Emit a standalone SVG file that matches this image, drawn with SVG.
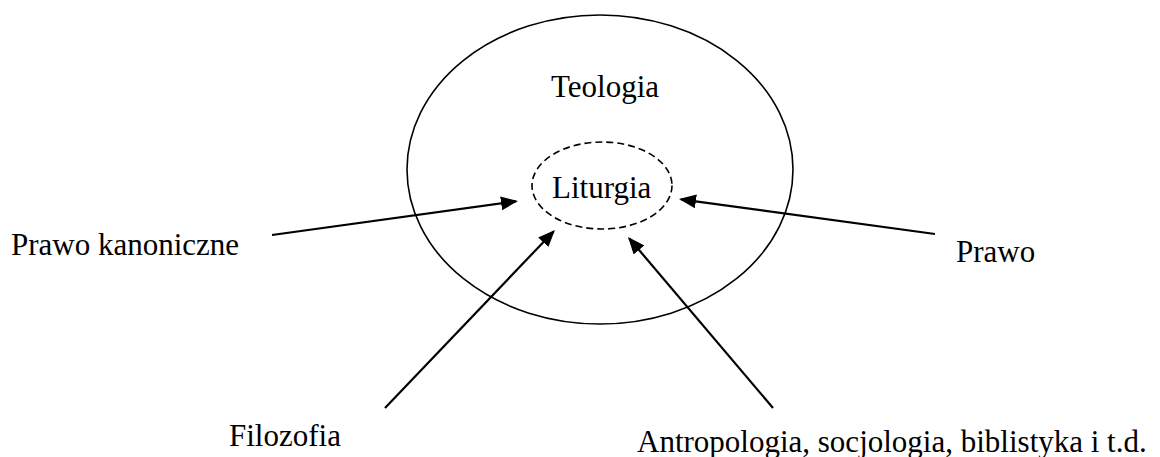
<svg xmlns="http://www.w3.org/2000/svg" width="1160" height="457" viewBox="0 0 1160 457">
<style>
text{font-family:"Liberation Serif","Times New Roman",serif;font-size:31px;fill:#000}
.outer{fill:none;stroke:#000;stroke-width:1.6}
.inner{fill:none;stroke:#000;stroke-width:1.6;stroke-dasharray:7 4}
.conn{stroke:#000;stroke-width:2.2;fill:none;marker-end:url(#ah)}
</style>
<defs>
<marker id="ah" markerUnits="userSpaceOnUse" markerWidth="17" markerHeight="14" refX="15" refY="7" orient="auto">
<path d="M0,0 L17,7 L0,14 z" fill="#000"/>
</marker>
</defs>
<rect width="1160" height="457" fill="#fff"/>
<g id="teologia">
<ellipse class="outer" cx="600" cy="169.5" rx="193" ry="154.5"/>
<text x="551" y="97">Teologia</text>
</g>
<g id="liturgia">
<ellipse class="inner" cx="602" cy="185.5" rx="70" ry="43.5"/>
<text x="552" y="198">Liturgia</text>
</g>
<g id="prawo-kanoniczne"><text x="11" y="255">Prawo kanoniczne</text></g>
<g id="prawo"><text x="956" y="262">Prawo</text></g>
<g id="filozofia"><text x="229" y="446">Filozofia</text></g>
<g id="antropologia"><text x="637" y="452">Antropologia, socjologia, biblistyka i t.d.</text></g>
<g id="connectors">
<line class="conn" x1="272" y1="235" x2="516" y2="201.3"/>
<line class="conn" x1="935" y1="234" x2="681" y2="199.3"/>
<line class="conn" x1="385" y1="408" x2="553.6" y2="231.4"/>
<line class="conn" x1="773" y1="408" x2="629.3" y2="238.5"/>
</g>
</svg>
